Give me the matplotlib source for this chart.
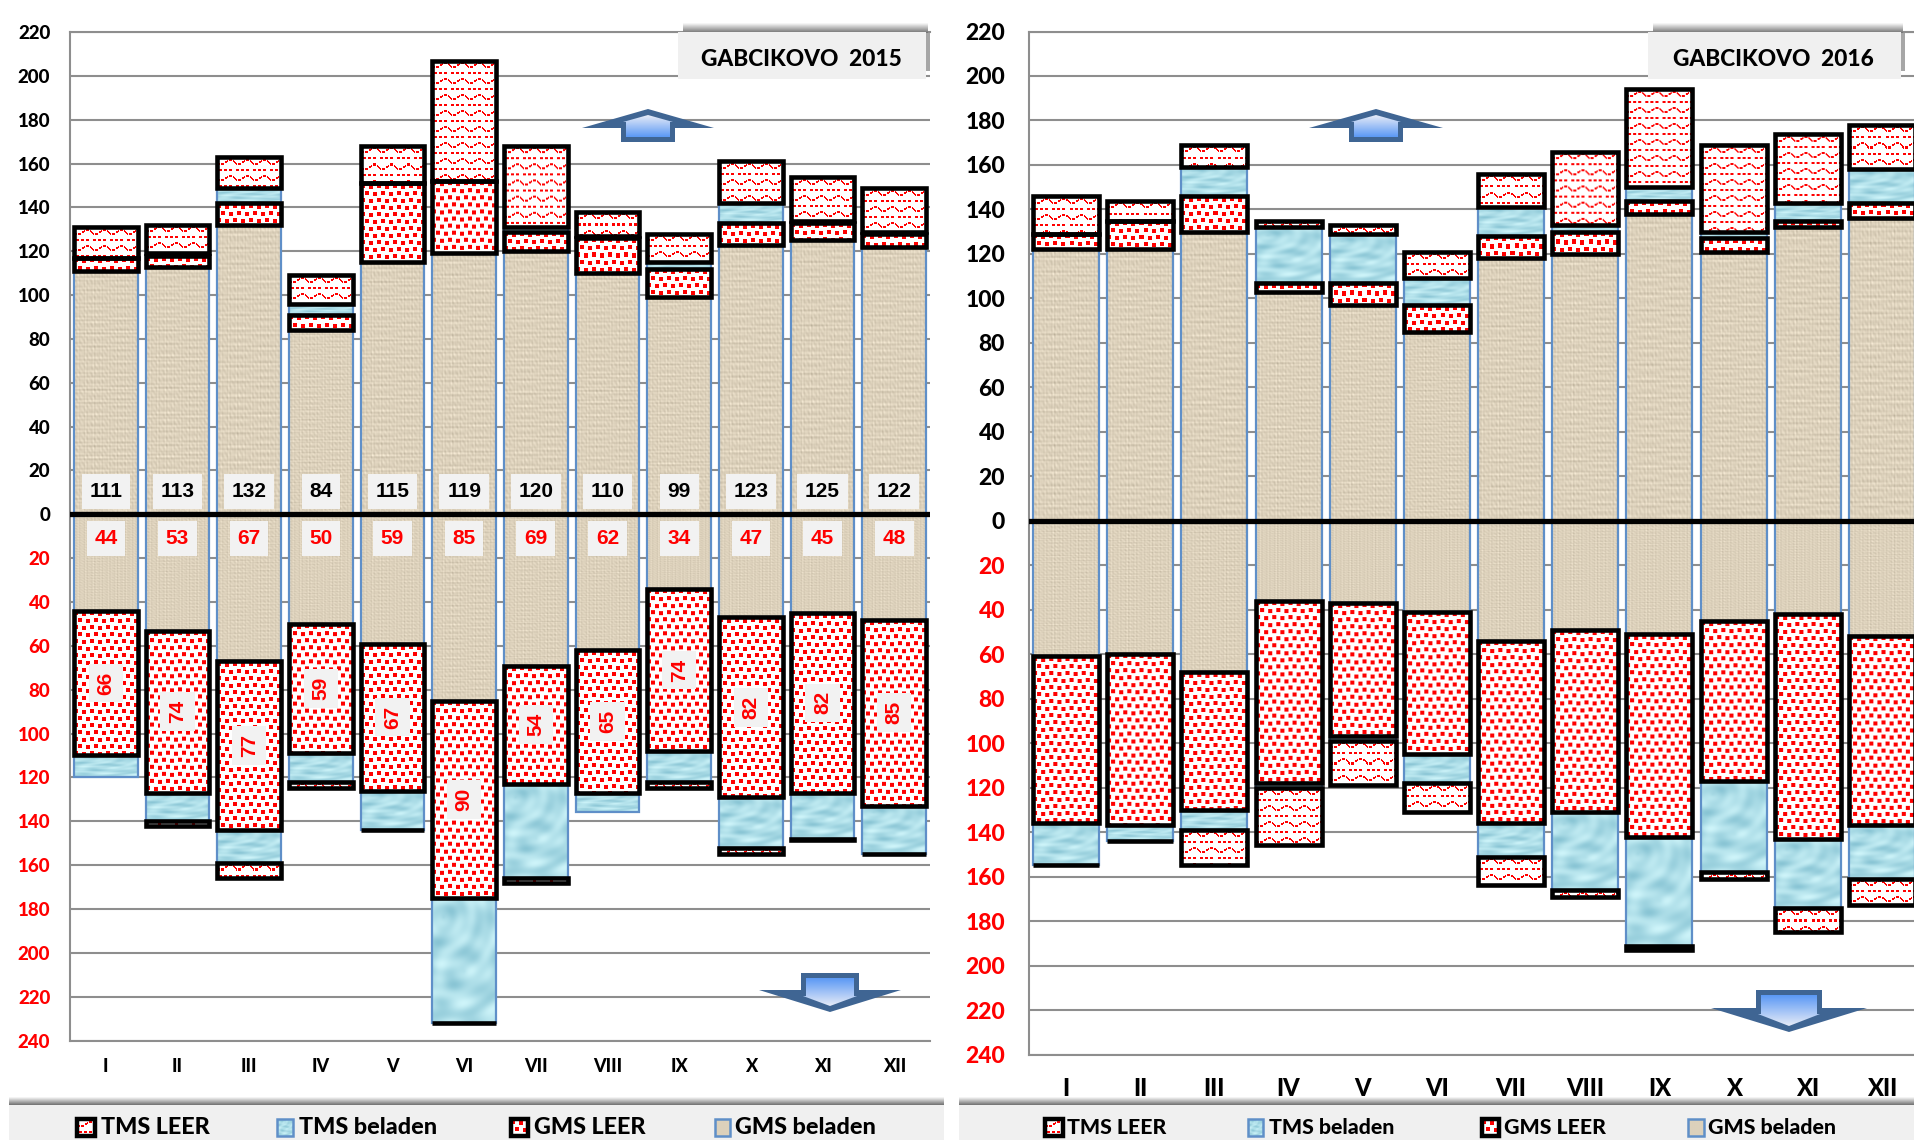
"""GABCIKOVO 2015 / 2016 - monthly ship passages, up and down, stacked by ship type."""

import numpy as np
import matplotlib
matplotlib.use('Agg')
import matplotlib.pyplot as plt
import matplotlib.patches as patches

W, H = 1915, 1140

MONTHS = ['I', 'II', 'III', 'IV', 'V', 'VI', 'VII', 'VIII', 'IX', 'X', 'XI', 'XII']
NaN = np.nan

# 2015, upstream
gms_bel_up_15 = [111, 113, 132, 84, 115, 119, 120, 110, 99, 123, 125, 122]
gms_leer_up_15 = [6, 5, 10, 7, 36, 33, 9, 16, 13, 10, 8, 6]
tms_bel_up_15 = [0, 1, 7, 5, 0, 0, 2, 1, 3, 9, 1, 1]
tms_leer_up_15 = [14, 13, 14, 13, 17, 55, 37, 11, 13, 19, 20, 20]

# 2015, downstream
gms_bel_dn_15 = [44, 53, 67, 50, 59, 85, 69, 62, 34, 47, 45, 48]
gms_leer_dn_15 = [66, 74, 77, 59, 67, 90, 54, 65, 74, 82, 82, 85]
tms_bel_dn_15 = [10, 13, 15, 13, 18, 57, 43, 9, 14, 23, 21, 22]
tms_leer_dn_15 = [NaN, 2, 7, 3, 0, 0, 2, NaN, 3, 3, 0.5, 0]

# 2016, upstream
gms_bel_up_16 = [122, 122, 130, 103, 97, 85, 118, 120, 138, 121, 132, 136]
gms_leer_up_16 = [7, 13, 16, 4, 10, 12, 10, 10, 6, 6, 3, 7]
tms_bel_up_16 = [0, 0, 13, 25, 22, 12, 13, 3, 6, 3, 8, 15]
tms_leer_up_16 = [17, 9, 10, 3, 4, 12, 15, 33, 44, 39, 31, 20]

# 2016, downstream
gms_bel_dn_16 = [61, 60, 68, 36, 37, 41, 54, 49, 51, 45, 42, 52]
gms_leer_dn_16 = [75, 77, 62, 82, 60, 64, 82, 82, 91, 72, 101, 85]
tms_bel_dn_16 = [19, 7, 9, 2, 2, 13, 15, 35, 49, 41, 31, 24]
tms_leer_dn_16 = [0, 0, 16, 26, 20, 13, 13, 3, 2, 3, 11, 12]

Y_TICKS = list(range(-240, 221, 20))
LEGEND = ['TMS LEER', 'TMS beladen', 'GMS LEER', 'GMS beladen']

FONT = 'Lato'
WEIGHT = 900
BLUE_EDGE = '#5f8fc8'
GRID = '#8e8e8e'
PANEL = '#f0f0f0'
ARROW_DARK = '#3f6593'


# ─── Fill textures ───
def tile_dots():
    tile = np.ones((14, 16, 3))
    for x, y in [(0, 1), (8, 2), (4, 8), (12, 9)]:
        tile[y:y + 4, x:x + 4] = (1, 0, 0)
    return tile


def tile_wave():
    tile = np.ones((16, 17, 3))
    for x in range(17):
        y = int(round(4 + 2.4 * np.sin(x / 17 * 2 * np.pi)))
        if x % 4 != 3:
            tile[y:y + 2, x] = (1, 0, 0)
    for x in (2, 7, 12):
        tile[12:14, x:x + 3] = (1, 0, 0)
    return tile


def linen():
    yy, xx = np.mgrid[0:240, 0:70]
    v = (np.sin(xx * 1.9) * np.sin(xx * 0.37) + np.sin(yy * 1.7) * np.sin(yy * 0.23)
         + 0.8 * np.sin(xx * 0.21 + yy * 0.13) * np.sin(xx * 1.3 - yy * 0.9)
         + 0.7 * np.sin(yy * 0.9) * np.sin(xx * 0.11 - 1))
    v = v[..., None] * 0.042
    return np.clip(np.array([0.865, 0.82, 0.735]) + v, 0, 1)


def water():
    yy, xx = np.mgrid[0:120, 0:70]
    v = (np.sin(xx * 0.16 + yy * 0.09) + np.sin(xx * 0.05 - yy * 0.19)
         + 0.7 * np.sin(np.hypot(xx - 35, yy - 70) * 0.28)
         + 0.5 * np.sin(np.hypot(xx - 12, yy - 18) * 0.45))
    v = v[..., None] * 0.035
    return np.clip(np.array([0.68, 0.87, 0.91]) + v * np.array([1.3, 0.9, 0.7]), 0, 1)


DOTS, WAVE, LINEN, WATER = tile_dots(), tile_wave(), linen(), water()


def paint(ax, x0, x1, top, bottom, img, zorder):
    ax.imshow(img, extent=(x0, x1, bottom, top), origin='upper', aspect='auto',
              interpolation='bilinear' if img.shape[0] > 60 else 'nearest', zorder=zorder)


def tiled(tile, w_px, h_px):
    w_px, h_px = max(int(round(w_px)), 1), max(int(round(h_px)), 1)
    ny = h_px // tile.shape[0] + 1
    nx = w_px // tile.shape[1] + 1
    return np.tile(tile, (ny, nx, 1))[:h_px, :w_px]


def stacked(ax, values, bottoms, texture, edge, lw, zorder, sign, sx, sy):
    """Draw one series with ax.bar, then lay its texture into each bar."""
    heights = np.array(values, dtype=float) * sign
    bars = ax.bar(range(12), heights, 0.89, bottom=bottoms, facecolor='none',
                  edgecolor=edge, linewidth=lw, zorder=zorder + 0.5)
    for rect in bars:
        h = rect.get_height()
        if np.isnan(h) or h == 0:
            continue
        x0, x1 = rect.get_x(), rect.get_x() + rect.get_width()
        y0, y1 = sorted([rect.get_y(), rect.get_y() + h])
        img = texture
        if texture.shape[0] < 60:
            img = tiled(texture, (x1 - x0) * sx, (y1 - y0) * sy)
        paint(ax, x0, x1, y1, y0, img, zorder)
    return bottoms + np.nan_to_num(heights)


def draw_panel(fig, box, up, down, tick_size, labels):
    left, top, width, height = box
    ax = fig.add_axes([left / W, 1 - (top + height) / H, width / W, height / H])
    ax.set_xlim(-0.5, 11.5)
    ax.set_ylim(-240, 220)
    ax.set_autoscale_on(False)
    sx, sy = width / 12, height / 460

    ax.set_axisbelow(True)
    ax.set_yticks(Y_TICKS)
    ax.set_yticklabels([str(abs(t)) for t in Y_TICKS], fontsize=tick_size,
                       fontweight=WEIGHT, family=FONT)
    for t, lab in zip(Y_TICKS, ax.get_yticklabels()):
        lab.set_color('red' if t < 0 else 'black')
    ax.tick_params(axis='y', length=0, pad=tick_size * 1.05)
    ax.tick_params(axis='x', length=0)
    ax.set_xticks(range(12))
    ax.set_xticklabels([])
    ax.grid(True, axis='y', color=GRID, linewidth=1.5)
    for s in ['right']:
        ax.spines[s].set_visible(False)
    for s in ['left', 'top', 'bottom']:
        ax.spines[s].set_color(GRID)
        ax.spines[s].set_linewidth(1.5)

    for sign, (gb, gl, tb, tl) in ((1, up), (-1, down)):
        base = np.zeros(12)
        base = stacked(ax, gb, base, LINEN, BLUE_EDGE, 1.6, 3, sign, sx, sy)
        base = stacked(ax, gl, base, DOTS, 'black', 3.3, 4, sign, sx, sy)
        base = stacked(ax, tb, base, WATER, BLUE_EDGE, 1.6, 3, sign, sx, sy)
        stacked(ax, tl, base, WAVE, 'black', 3.3, 4, sign, sx, sy)

    ax.axhline(0, color='black', linewidth=3.8, zorder=6)

    if labels:
        box_style = dict(facecolor='#f2f2f2', edgecolor='none', pad=5.5)
        txt = dict(family='Liberation Sans', fontweight='bold', fontsize=15,
                   ha='center', va='center', zorder=7, bbox=box_style)
        gb_up, gb_dn, gl_dn = up[0], down[0], down[1]
        for i in range(12):
            ax.text(i, 10.5, str(gb_up[i]), color='black', **txt)
            ax.text(i, -11, str(gb_dn[i]), color='red', **txt)
            ax.text(i, -(gb_dn[i] + gl_dn[i] / 2), str(gl_dn[i]), color='red',
                    rotation=90, **txt)
    return ax


def shadow(ov, x0, x1, y0, y1):
    ramp = np.linspace(0.98, 0.45, 20)[:, None].repeat(3, axis=1)[:, None, :]
    ov.imshow(ramp, extent=(x0, x1, y1, y0), origin='upper', aspect='auto',
              interpolation='bilinear', zorder=2)


def arrow(ov, cx, half_wing, half_stem, y_tip, y_wing, y_end):
    """Block arrow: dark outer shape with a gradient inner one, pale at the tip."""
    d = 1 if y_end > y_tip else -1
    outer = [(cx - half_wing, y_wing), (cx, y_tip), (cx + half_wing, y_wing),
             (cx + half_stem, y_wing), (cx + half_stem, y_end),
             (cx - half_stem, y_end), (cx - half_stem, y_wing)]
    ov.add_patch(patches.Polygon(outer, closed=True, facecolor=ARROW_DARK, edgecolor='none', zorder=5))
    in_stem = half_stem - 5
    y_in_wing = y_wing - 6 * d
    inner = [(cx - in_stem - 3, y_in_wing), (cx, y_tip + 6 * d), (cx + in_stem + 3, y_in_wing),
             (cx + in_stem, y_in_wing), (cx + in_stem, y_end - 5 * d),
             (cx - in_stem, y_end - 5 * d), (cx - in_stem, y_in_wing)]
    c0, c1 = np.array([0.90, 0.92, 0.97]), np.array([0.36, 0.60, 0.96])
    t = np.linspace(0, 1, 40)[:, None]
    grad = (c0 * (1 - t) + c1 * t)[:, None, :]
    im = ov.imshow(grad, extent=(cx - half_stem, cx + half_stem, y_end - 5 * d, y_tip + 6 * d),
                   origin='upper', aspect='auto', interpolation='bilinear', zorder=6)
    im.set_clip_path(patches.Polygon(inner, closed=True, transform=ov.transData))


def legend_strip(ov, x0, x1, swatches, size):
    shadow(ov, x0, x1, 1097, 1105)
    ov.add_patch(patches.Rectangle((x0, 1105), x1 - x0, 35, facecolor=PANEL, edgecolor='none', zorder=3))
    textures = [WAVE, WATER, DOTS, LINEN]
    for (sx0, sx1, tx), name, tex in zip(swatches, LEGEND, textures):
        img = tiled(tex, sx1 - sx0, 17) if tex.shape[0] < 60 else tex
        paint(ov, sx0, sx1, 1119, 1136, img, 4)
        dark = tex.shape[0] < 60
        ov.add_patch(patches.Rectangle((sx0, 1119), sx1 - sx0, 17, facecolor='none',
                                       edgecolor='black' if dark else BLUE_EDGE,
                                       linewidth=3.2 if dark else 1.8, zorder=5))
        ov.text(tx, 1127.5, name, fontsize=size, fontweight=WEIGHT, family=FONT,
                ha='left', va='center', color='black', zorder=6)


def title_box(ov, x0, x1, tx, text):
    shadow(ov, x0 + 5, x1 + 2, 23, 33)
    ov.add_patch(patches.Rectangle((x1, 33), 4, 38, facecolor='#a6a6a6', edgecolor='none', zorder=2))
    ov.add_patch(patches.Rectangle((x0, 32), x1 - x0, 47, facecolor=PANEL, edgecolor='none', zorder=3))
    ov.text(tx, 59, text, fontsize=16.3, fontweight=WEIGHT, family=FONT, ha='center',
            va='center', color='black', zorder=4)


fig = plt.figure(figsize=(W / 100, H / 100), dpi=100, facecolor='white')

draw_panel(fig, (70, 32, 860, 1008.5),
           (gms_bel_up_15, gms_leer_up_15, tms_bel_up_15, tms_leer_up_15),
           (gms_bel_dn_15, gms_leer_dn_15, tms_bel_dn_15, tms_leer_dn_15), 13.5, True)
draw_panel(fig, (1029, 31.5, 890, 1023),
           (gms_bel_up_16, gms_leer_up_16, tms_bel_up_16, tms_leer_up_16),
           (gms_bel_dn_16, gms_leer_dn_16, tms_bel_dn_16, tms_leer_dn_16), 16.5, False)

# Overlay in image pixels for the boxes, arrows, month labels and legends
ov = fig.add_axes([0, 0, 1, 1], zorder=10)
ov.set_xlim(0, W)
ov.set_ylim(H, 0)
ov.set_autoscale_on(False)
ov.axis('off')

title_box(ov, 678, 926, 801, 'GABCIKOVO  2015')
title_box(ov, 1648, 1901, 1773, 'GABCIKOVO  2016')

arrow(ov, 648, 66, 27, 109, 128, 142)
arrow(ov, 1376, 67, 27, 109, 128, 142)
arrow(ov, 830, 71, 29, 1012, 990, 973)
arrow(ov, 1789, 78, 33, 1032, 1008, 990)

for i, m in enumerate(MONTHS):
    ov.text(70 + 860 / 12 * (i + 0.5), 1067, m, fontsize=13, fontweight=WEIGHT, family=FONT,
            ha='center', va='center', color='black', zorder=1)
    ov.text(1029 + 890 / 12 * (i + 0.5), 1089, m, fontsize=17, fontweight=WEIGHT, family=FONT,
            ha='center', va='center', color='black', zorder=1)

legend_strip(ov, 9, 944, [(77, 95, 101), (277, 293, 299), (511, 528, 534), (715, 730, 735)], 16.8)
legend_strip(ov, 959, W, [(1045, 1063, 1067), (1248, 1263, 1269), (1482, 1499, 1504), (1688, 1704, 1708)], 15.3)

fig.savefig('out.png', dpi=100)
